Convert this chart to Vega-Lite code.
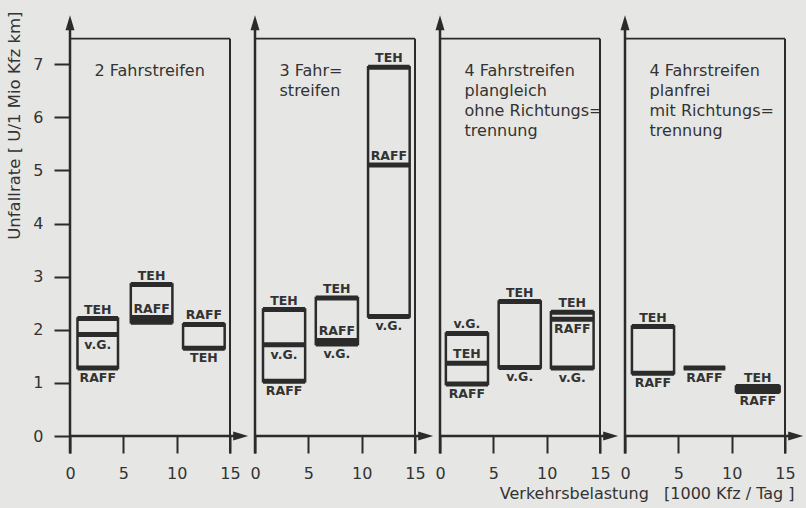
{
  "$schema": "https://vega.github.io/schema/vega-lite/v6.json",
  "background": "#e6e7e4",
  "padding": {"left": 6, "top": 10, "right": 20, "bottom": 20},
  "bounds": "flush",
  "spacing": {"column": 25},
  "config": {
    "view": {"stroke": null},
    "font": "DejaVu Sans",
    "axis": {"grid": false, "domain": false, "tickColor": "#2b2b2b", "tickWidth": 2, "labelColor": "#333333", "labelFont": "DejaVu Sans", "labelFontSize": 16, "titleFont": "DejaVu Sans", "titleFontSize": 16.5, "titleFontWeight": "normal", "titleColor": "#333333"},
    "axisX": {"tickSize": 17, "labelPadding": 12, "labelFlush": false},
    "axisY": {"tickSize": 16, "labelPadding": 11, "titleAnchor": "end", "titlePadding": 10}
  },
  "data": {"values": [
    {"panel": 1, "kind": "title", "text": "2 Fahrstreifen"},
    {"panel": 2, "kind": "title", "text": "3 Fahr=\n\u00a0streifen"},
    {"panel": 3, "kind": "title", "text": "4 Fahrstreifen\n\u00a0plangleich\n\u00a0ohne Richtungs=\n\u00a0trennung"},
    {"panel": 4, "kind": "title", "text": "4 Fahrstreifen\n\u00a0\u00a0planfrei\n\u00a0\u00a0mit Richtungs=\n\u00a0\u00a0trennung"},

    {"panel": 1, "kind": "box", "x1": 0.7, "x2": 4.5, "lo": 1.28, "hi": 2.21},
    {"panel": 1, "kind": "box", "x1": 5.7, "x2": 9.6, "lo": 2.14, "hi": 2.85},
    {"panel": 1, "kind": "box", "x1": 10.6, "x2": 14.5, "lo": 1.65, "hi": 2.1},
    {"panel": 2, "kind": "box", "x1": 0.75, "x2": 4.7, "lo": 1.03, "hi": 2.38},
    {"panel": 2, "kind": "box", "x1": 5.7, "x2": 9.65, "lo": 1.73, "hi": 2.6},
    {"panel": 2, "kind": "box", "x1": 10.6, "x2": 14.5, "lo": 2.25, "hi": 6.94},
    {"panel": 3, "kind": "box", "x1": 0.55, "x2": 4.5, "lo": 0.98, "hi": 1.93},
    {"panel": 3, "kind": "box", "x1": 5.5, "x2": 9.45, "lo": 1.29, "hi": 2.53},
    {"panel": 3, "kind": "box", "x1": 10.4, "x2": 14.4, "lo": 1.28, "hi": 2.33},
    {"panel": 4, "kind": "box", "x1": 0.65, "x2": 4.6, "lo": 1.18, "hi": 2.06},
    {"panel": 4, "kind": "box", "x1": 5.5, "x2": 9.4, "lo": 1.28, "hi": 1.28},
    {"panel": 4, "kind": "box", "x1": 10.4, "x2": 14.5, "lo": 0.84, "hi": 0.93},

    {"panel": 1, "kind": "level", "x1": 0.7, "x2": 4.5, "xc": 2.6, "y": 2.21, "label": "TEH", "pos": "above"},
    {"panel": 1, "kind": "level", "x1": 0.7, "x2": 4.5, "xc": 2.6, "y": 1.91, "label": "v.G.", "pos": "below"},
    {"panel": 1, "kind": "level", "x1": 0.7, "x2": 4.5, "xc": 2.6, "y": 1.28, "label": "RAFF", "pos": "below"},
    {"panel": 1, "kind": "level", "x1": 5.7, "x2": 9.6, "xc": 7.65, "y": 2.85, "label": "TEH", "pos": "above"},
    {"panel": 1, "kind": "level", "x1": 5.7, "x2": 9.6, "xc": 7.65, "y": 2.23, "label": "RAFF", "pos": "above"},
    {"panel": 1, "kind": "level", "x1": 5.7, "x2": 9.6, "xc": 7.65, "y": 2.14, "label": "", "pos": "below"},
    {"panel": 1, "kind": "level", "x1": 10.6, "x2": 14.5, "xc": 12.55, "y": 2.1, "label": "RAFF", "pos": "above"},
    {"panel": 1, "kind": "level", "x1": 10.6, "x2": 14.5, "xc": 12.55, "y": 1.65, "label": "TEH", "pos": "below"},
    {"panel": 2, "kind": "level", "x1": 0.75, "x2": 4.7, "xc": 2.72, "y": 2.38, "label": "TEH", "pos": "above"},
    {"panel": 2, "kind": "level", "x1": 0.75, "x2": 4.7, "xc": 2.72, "y": 1.72, "label": "v.G.", "pos": "below"},
    {"panel": 2, "kind": "level", "x1": 0.75, "x2": 4.7, "xc": 2.72, "y": 1.03, "label": "RAFF", "pos": "below"},
    {"panel": 2, "kind": "level", "x1": 5.7, "x2": 9.65, "xc": 7.67, "y": 2.6, "label": "TEH", "pos": "above"},
    {"panel": 2, "kind": "level", "x1": 5.7, "x2": 9.65, "xc": 7.67, "y": 1.8, "label": "RAFF", "pos": "above"},
    {"panel": 2, "kind": "level", "x1": 5.7, "x2": 9.65, "xc": 7.67, "y": 1.73, "label": "v.G.", "pos": "below"},
    {"panel": 2, "kind": "level", "x1": 10.6, "x2": 14.5, "xc": 12.55, "y": 6.94, "label": "TEH", "pos": "above"},
    {"panel": 2, "kind": "level", "x1": 10.6, "x2": 14.5, "xc": 12.55, "y": 5.1, "label": "RAFF", "pos": "above"},
    {"panel": 2, "kind": "level", "x1": 10.6, "x2": 14.5, "xc": 12.55, "y": 2.25, "label": "v.G.", "pos": "below"},
    {"panel": 3, "kind": "level", "x1": 0.55, "x2": 4.5, "xc": 2.52, "y": 1.93, "label": "v.G.", "pos": "above"},
    {"panel": 3, "kind": "level", "x1": 0.55, "x2": 4.5, "xc": 2.52, "y": 1.37, "label": "TEH", "pos": "above"},
    {"panel": 3, "kind": "level", "x1": 0.55, "x2": 4.5, "xc": 2.52, "y": 0.98, "label": "RAFF", "pos": "below"},
    {"panel": 3, "kind": "level", "x1": 5.5, "x2": 9.45, "xc": 7.47, "y": 2.53, "label": "TEH", "pos": "above"},
    {"panel": 3, "kind": "level", "x1": 5.5, "x2": 9.45, "xc": 7.47, "y": 1.29, "label": "v.G.", "pos": "below"},
    {"panel": 3, "kind": "level", "x1": 10.4, "x2": 14.4, "xc": 12.4, "y": 2.33, "label": "TEH", "pos": "above"},
    {"panel": 3, "kind": "level", "x1": 10.4, "x2": 14.4, "xc": 12.4, "y": 2.2, "label": "RAFF", "pos": "below"},
    {"panel": 3, "kind": "level", "x1": 10.4, "x2": 14.4, "xc": 12.4, "y": 1.28, "label": "v.G.", "pos": "below"},
    {"panel": 4, "kind": "level", "x1": 0.65, "x2": 4.6, "xc": 2.62, "y": 2.06, "label": "TEH", "pos": "above"},
    {"panel": 4, "kind": "level", "x1": 0.65, "x2": 4.6, "xc": 2.62, "y": 1.18, "label": "RAFF", "pos": "below"},
    {"panel": 4, "kind": "level", "x1": 5.5, "x2": 9.4, "xc": 7.45, "y": 1.28, "label": "RAFF", "pos": "below"},
    {"panel": 4, "kind": "level", "x1": 10.4, "x2": 14.5, "xc": 12.45, "y": 0.93, "label": "TEH", "pos": "above"},
    {"panel": 4, "kind": "level", "x1": 10.4, "x2": 14.5, "xc": 12.45, "y": 0.84, "label": "RAFF", "pos": "below"}
  ]},
  "facet": {
    "column": {
      "field": "panel", "type": "ordinal", "title": null,
      "header": {"labels": false}
    }
  },
  "spec": {
    "width": 160,
    "height": 425,
    "layer": [
      {
        "transform": [{"filter": "datum.kind === 'box'"}],
        "mark": {"type": "rect", "fill": "#e6e7e4", "stroke": "#2b2b2b", "strokeWidth": 2.5},
        "encoding": {
          "x": {"field": "x1", "type": "quantitative", "scale": {"domain": [0, 15], "nice": false, "zero": false}, "axis": {"values": [0, 5, 10, 15], "title": null}},
          "x2": {"field": "x2"},
          "y": {"field": "lo", "type": "quantitative", "scale": {"domain": [0, 8], "nice": false, "zero": false}, "axis": {"values": [0, 1, 2, 3, 4, 5, 6, 7], "title": "Unfallrate [ U/1 Mio Kfz km]"}},
          "y2": {"field": "hi"}
        }
      },
      {
        "transform": [{"filter": "datum.kind === 'level'"}],
        "mark": {"type": "rule", "stroke": "#2b2b2b", "strokeWidth": 5},
        "encoding": {
          "x": {"field": "x1", "type": "quantitative"},
          "x2": {"field": "x2"},
          "y": {"field": "y", "type": "quantitative"}
        }
      },
      {
        "transform": [{"filter": "datum.kind === 'level' && datum.pos === 'above'"}],
        "mark": {"type": "text", "font": "DejaVu Sans", "fontWeight": "bold", "fontSize": 12.5, "color": "#333333", "baseline": "alphabetic", "dy": -5},
        "encoding": {
          "x": {"field": "xc", "type": "quantitative"},
          "y": {"field": "y", "type": "quantitative"},
          "text": {"field": "label"}
        }
      },
      {
        "transform": [{"filter": "datum.kind === 'level' && datum.pos === 'below'"}],
        "mark": {"type": "text", "font": "DejaVu Sans", "fontWeight": "bold", "fontSize": 12.5, "color": "#333333", "baseline": "top", "dy": 4},
        "encoding": {
          "x": {"field": "xc", "type": "quantitative"},
          "y": {"field": "y", "type": "quantitative"},
          "text": {"field": "label"}
        }
      },
      {
        "transform": [{"filter": "datum.kind === 'title'"}],
        "mark": {"type": "text", "font": "DejaVu Sans", "fontSize": 16, "color": "#333333", "align": "left", "baseline": "top", "lineBreak": "\n", "lineHeight": 20},
        "encoding": {
          "x": {"datum": 2.3},
          "y": {"datum": 7.03},
          "text": {"field": "text"}
        }
      },
      {
        "transform": [{"filter": "datum.kind === 'title' && datum.panel === 4"}],
        "mark": {"type": "text", "font": "DejaVu Sans", "fontSize": 16, "color": "#333333", "align": "right", "baseline": "middle", "text": "Verkehrsbelastung\u00a0\u00a0\u00a0[1000 Kfz / Tag ]"},
        "encoding": {
          "x": {"datum": 15.9},
          "y": {"datum": -1.09}
        }
      },
      {
        "transform": [{"filter": "datum.kind === 'title'"}],
        "mark": {"type": "rule", "stroke": "#2b2b2b", "strokeWidth": 2.5},
        "encoding": {"x": {"datum": 0}, "y": {"datum": -0.33}, "y2": {"datum": 7.75}}
      },
      {
        "transform": [{"filter": "datum.kind === 'title'"}],
        "mark": {"type": "rule", "stroke": "#2b2b2b", "strokeWidth": 2.5},
        "encoding": {"x": {"datum": 0}, "x2": {"datum": 15.9}, "y": {"datum": 0}}
      },
      {
        "transform": [{"filter": "datum.kind === 'title'"}],
        "mark": {"type": "rule", "stroke": "#2b2b2b", "strokeWidth": 1.7},
        "encoding": {"x": {"datum": 0}, "x2": {"datum": 15}, "y": {"datum": 7.48}}
      },
      {
        "transform": [{"filter": "datum.kind === 'title'"}],
        "mark": {"type": "rule", "stroke": "#2b2b2b", "strokeWidth": 2},
        "encoding": {"x": {"datum": 15}, "y": {"datum": -0.33}, "y2": {"datum": 7.48}}
      },
      {
        "transform": [{"filter": "datum.kind === 'title'"}],
        "mark": {"type": "point", "shape": "M0,-1L0.6,1L-0.6,1Z", "size": 225, "filled": true, "color": "#2b2b2b", "opacity": 1},
        "encoding": {"x": {"datum": 0}, "y": {"datum": 7.78}}
      },
      {
        "transform": [{"filter": "datum.kind === 'title'"}],
        "mark": {"type": "point", "shape": "M1,0L-1,0.6L-1,-0.6Z", "size": 225, "filled": true, "color": "#2b2b2b", "opacity": 1},
        "encoding": {"x": {"datum": 16.0}, "y": {"datum": 0}}
      }
    ]
  }
}
